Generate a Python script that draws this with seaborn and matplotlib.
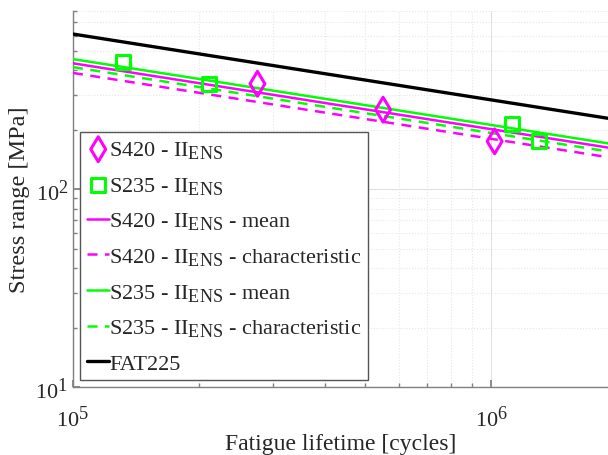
import numpy as np
import pandas as pd
import matplotlib
matplotlib.use("Agg")
import matplotlib.pyplot as plt
import matplotlib._mathtext as mathtext_internal
from matplotlib.ticker import LogLocator, NullFormatter
import seaborn as sns

# Test results: fatigue life [cycles] and stress range [MPa]
s420_cycles = [2.76e5, 5.51e5, 1.018e6]
s420_stress = [342, 253, 175]
s235_cycles = [1.318e5, 2.116e5, 1.122e6, 1.299e6]
s235_stress = [441, 341, 214, 176]

# S-N curves: stress range at 2e6 cycles [MPa] and inverse slope
s420_mean_fat = 160
s420_char_fat = 143
s235_mean_fat = 168
s235_char_fat = 153
fat225 = 225
slope_m = 3

curve_cycles = [1e5, 2e6]

sns.set_theme(style="white")
plt.rcParams["font.family"] = ["Liberation Serif", "DejaVu Serif"]
plt.rcParams["mathtext.fontset"] = "custom"
plt.rcParams["mathtext.rm"] = "Liberation Serif"
plt.rcParams["mathtext.it"] = "Liberation Serif:italic"
# larger subscripts
mathtext_internal.SHRINK_FACTOR = 0.82

fig = plt.figure(figsize=(6.08, 4.56), dpi=100)
ax = fig.add_axes([0.120, 0.149, 0.880, 0.825])


def sn_curve(fat):
    n = np.array(curve_cycles)
    return pd.DataFrame({"N": n, "S": fat * (2e6 / n) ** (1.0 / slope_m)})


magenta = "#ff00ff"
green = "#00ff00"

sns.scatterplot(x=s420_cycles, y=s420_stress, ax=ax, marker="d", s=160,
                facecolor="none", edgecolor=magenta, linewidth=2.2,
                label=r"S420 - II$_{\mathrm{ENS}}$", zorder=5)
sns.scatterplot(x=s235_cycles, y=s235_stress, ax=ax, marker="s", s=100,
                facecolor="none", edgecolor=green, linewidth=2.2,
                label=r"S235 - II$_{\mathrm{ENS}}$", zorder=5)

curves = [
    (s420_mean_fat, magenta, "-", r"S420 - II$_{\mathrm{ENS}}$ - mean"),
    (s420_char_fat, magenta, "--", r"S420 - II$_{\mathrm{ENS}}$ - characteristic"),
    (s235_mean_fat, green, "-", r"S235 - II$_{\mathrm{ENS}}$ - mean"),
    (s235_char_fat, green, "--", r"S235 - II$_{\mathrm{ENS}}$ - characteristic"),
]
for fat, col, ls, lab in curves:
    d = sn_curve(fat)
    sns.lineplot(data=d, x="N", y="S", ax=ax, color=col, linestyle=ls,
                 linewidth=1.8, label=lab, zorder=4)
    if ls == "--":
        ax.lines[-1].set_dashes((4, 3))

d = sn_curve(fat225)
sns.lineplot(data=d, x="N", y="S", ax=ax, color="black", linewidth=2.4,
             label="FAT225", zorder=4)

ax.set_xscale("log")
ax.set_yscale("log")
ax.set_xlim(1e5, 1.9e6)
ax.set_ylim(10, 800)

ax.xaxis.set_major_locator(LogLocator(base=10))
ax.xaxis.set_minor_locator(LogLocator(base=10, subs=np.arange(2, 10)))
ax.yaxis.set_major_locator(LogLocator(base=10))
ax.yaxis.set_minor_locator(LogLocator(base=10, subs=np.arange(2, 10)))
ax.xaxis.set_minor_formatter(NullFormatter())
ax.yaxis.set_minor_formatter(NullFormatter())

ax.grid(True, which="major", color="#e0e0e0", linewidth=0.8, linestyle="-")
ax.grid(True, which="minor", color="#e6e6e6", linewidth=0.8, linestyle=":")
ax.set_axisbelow(True)

for side in ("top", "right"):
    ax.spines[side].set_visible(False)
for side in ("left", "bottom"):
    ax.spines[side].set_color("#808080")
    ax.spines[side].set_linewidth(1.0)

ax.tick_params(which="both", direction="in", colors="#808080",
               labelcolor="#262626", labelsize=16, left=True, bottom=True)
ax.tick_params(which="major", length=5)
ax.tick_params(which="minor", length=3)
ax.tick_params(axis="x", pad=13)

ax.set_xlabel("Fatigue lifetime [cycles]", fontsize=17, color="#262626",
              labelpad=2)
ax.set_ylabel("Stress range [MPa]", fontsize=17.5, color="#262626",
              labelpad=4)

leg = ax.legend(loc="lower left", bbox_to_anchor=(0.014, 0.018),
                fontsize=16.0, frameon=True, fancybox=False, framealpha=1,
                edgecolor="#555555", handlelength=1.0, handletextpad=0.0,
                labelspacing=0.66, borderpad=0.3, borderaxespad=0.0)
leg.get_frame().set_linewidth(1.0)
for t in leg.get_texts():
    t.set_color("#262626")

fig.savefig("out.png", dpi=100)
